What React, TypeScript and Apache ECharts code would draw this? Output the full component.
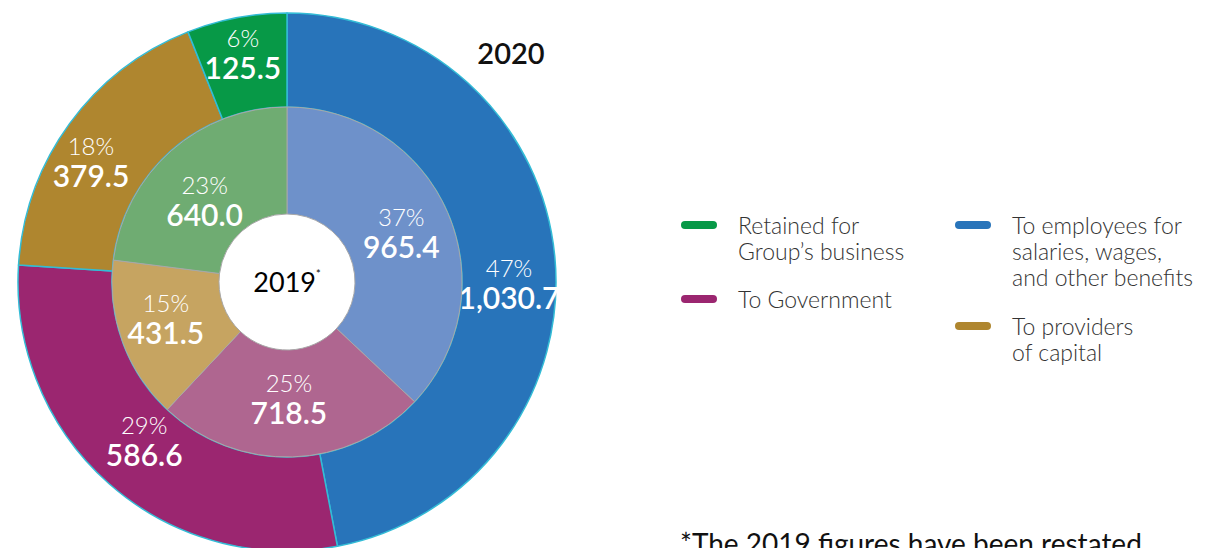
import React, { useEffect, useRef } from "react";
import * as echarts from "echarts";

const categories = [
  "To employees for salaries, wages, and other benefits",
  "To Government",
  "To providers of capital",
  "Retained for Group's business",
];
const legendLines = [
  ["To employees for", "salaries, wages,", "and other benefits"],
  ["To Government"],
  ["To providers", "of capital"],
  ["Retained for", "Group\u2019s business"],
];
const values2020 = [1030.7, 586.6, 379.5, 125.5];
const percent2020 = [47, 29, 18, 6];
const values2019 = [965.4, 718.5, 431.5, 640.0];
const percent2019 = [37, 25, 15, 23];

const outerColors = ["#2874BA", "#9B2670", "#AF862F", "#079947"];
const innerColors = ["#6E91CA", "#AF6690", "#C6A461", "#6FAC72"];

// small label nudges (px) to mimic the reference placement
const outerLabelOffsets = [[-2, 23], [6, -10], [-14, 12], [-2, -7]];
const innerLabelOffsets = [[0, 0], [-2, -8], [-4, -6], [0, 12]];

const FONT = "Lato, 'Noto Sans', sans-serif";

function fmt(v: number) {
  return v.toLocaleString("en-US", { minimumFractionDigits: 1, maximumFractionDigits: 1 });
}

const labelRich = {
  p: { fontFamily: FONT, fontSize: 24, fontWeight: 300, color: "#ffffff", lineHeight: 27 },
  v: { fontFamily: FONT, fontSize: 30, fontWeight: 600, color: "#ffffff", lineHeight: 32 },
};

export default function App() {
  const ref = useRef<HTMLDivElement>(null);
  useEffect(() => {
    if (!ref.current) return;
    const chart = echarts.init(ref.current, undefined, { renderer: "svg" });

    const legendPos = [
      { x: 955, y: 225 },
      { x: 681, y: 299 },
      { x: 955, y: 326 },
      { x: 681, y: 225 },
    ];
    const graphics: any[] = [];
    legendLines.forEach((lines, i) => {
      const p = legendPos[i];
      graphics.push({
        type: "rect",
        shape: { x: p.x, y: p.y - 4, width: 36, height: 8, r: 4 },
        style: { fill: outerColors[i] },
      });
      graphics.push({
        type: "text",
        x: p.x + 57,
        y: p.y - 13,
        style: {
          text: lines.join("\n"),
          fontFamily: FONT,
          fontSize: 23,
          fontWeight: 300,
          lineHeight: 26,
          fill: "#333333",
          textVerticalAlign: "top",
        },
      });
    });
    graphics.push({
      type: "text",
      x: 511,
      y: 52,
      style: {
        text: "2020",
        fontFamily: FONT,
        fontSize: 29,
        fontWeight: 600,
        fill: "#111111",
        textAlign: "center",
        textVerticalAlign: "middle",
      },
    });
    graphics.push({
      type: "text",
      x: 287,
      y: 281,
      style: {
        text: "{a|2019}{s|*}",
        textAlign: "center",
        textVerticalAlign: "middle",
        rich: {
          a: { fontFamily: FONT, fontSize: 27, fontWeight: 400, color: "#111111" },
          s: { fontFamily: FONT, fontSize: 11, color: "#111111", verticalAlign: "top", padding: [0, 0, 14, 0] },
        },
      },
    });
    graphics.push({
      type: "text",
      x: 680,
      y: 529,
      style: {
        text: "*The 2019 figures have been restated",
        fontFamily: FONT,
        fontSize: 28,
        fontWeight: 400,
        fill: "#111111",
        textVerticalAlign: "top",
      },
    });

    chart.setOption({
      animation: false,
      backgroundColor: "#ffffff",
      graphic: graphics,
      series: [
        {
          name: "2020",
          type: "pie",
          center: [287, 282],
          radius: [175, 269],
          startAngle: 90,
          clockwise: true,
          avoidLabelOverlap: false,
          labelLine: { show: false },
          itemStyle: { borderColor: "#33BCD6", borderWidth: 1.5 },
          label: {
            show: true,
            position: "inside",
            rich: labelRich,
            formatter: (p: any) => `{p|${percent2020[p.dataIndex]}%}\n{v|${fmt(values2020[p.dataIndex])}}`,
          },
          emphasis: { disabled: true },
          data: categories.map((c, i) => ({
            name: c,
            value: percent2020[i],
            itemStyle: { color: outerColors[i] },
            label: { offset: outerLabelOffsets[i] },
          })),
          z: 1,
        },
        {
          name: "2019",
          type: "pie",
          center: [287, 282],
          radius: [68, 175],
          startAngle: 90,
          clockwise: true,
          avoidLabelOverlap: false,
          labelLine: { show: false },
          itemStyle: { borderColor: "#A8A8A8", borderWidth: 1 },
          label: {
            show: true,
            position: "inside",
            rich: labelRich,
            formatter: (p: any) => `{p|${percent2019[p.dataIndex]}%}\n{v|${fmt(values2019[p.dataIndex])}}`,
          },
          emphasis: { disabled: true },
          data: categories.map((c, i) => ({
            name: c,
            value: percent2019[i],
            itemStyle: { color: innerColors[i] },
            label: { offset: innerLabelOffsets[i] },
          })),
          z: 2,
        },
      ],
    });
    return () => chart.dispose();
  }, []);
  return (
    <div
      ref={ref}
      style={{ position: "fixed", left: 0, top: 0, width: 1218, height: 548, background: "#fff" }}
    />
  );
}
